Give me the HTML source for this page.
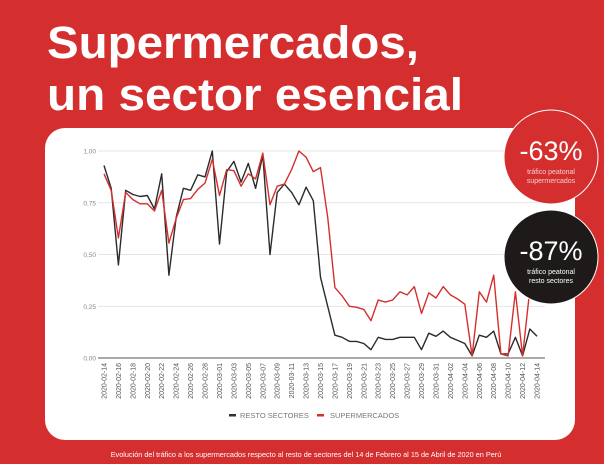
<!DOCTYPE html>
<html><head><meta charset="utf-8"><style>
html,body{margin:0;padding:0;width:604px;height:464px;overflow:hidden;background:#d42f2e;}
svg{display:block;font-family:"Liberation Sans",sans-serif;}
</style></head><body>
<svg id="root" width="604" height="464" viewBox="0 0 604 464">
<rect x="0" y="0" width="604" height="464" fill="#d42f2e"/>
<text x="47" y="58" font-size="45" font-weight="bold" fill="#fff" textLength="372" lengthAdjust="spacingAndGlyphs">Supermercados,</text>
<text x="47" y="110" font-size="45" font-weight="bold" fill="#fff" textLength="416" lengthAdjust="spacingAndGlyphs">un sector esencial</text>
<rect x="45" y="128" width="530" height="312" rx="20" fill="#fff"/>
<g id="grid"></g>
<g id="xlabels"></g>
<g id="series"></g>
<g>
<rect x="229" y="414" width="7" height="2.5" fill="#333"/>
<text x="240" y="418" font-size="7.5" fill="#777">RESTO SECTORES</text>
<rect x="317" y="414" width="7" height="2.5" fill="#d42f2e"/>
<text x="330" y="418" font-size="7.5" fill="#777">SUPERMERCADOS</text>
</g>
<g>
<circle cx="551" cy="157" r="47" fill="#d42f2e" stroke="#fff" stroke-width="1"/>
<text x="551" y="160" font-size="27" fill="#fff" text-anchor="middle">-63%</text>
<text x="551" y="174" font-size="7" fill="#f3d0d0" text-anchor="middle">tráfico peatonal</text>
<text x="551" y="183" font-size="7" fill="#f3d0d0" text-anchor="middle">supermercados</text>
</g>
<g>
<circle cx="551" cy="257" r="47" fill="#1e1a1a" stroke="#fff" stroke-width="1"/>
<text x="551" y="260" font-size="27" fill="#fff" text-anchor="middle">-87%</text>
<text x="551" y="274" font-size="7" fill="#fff" text-anchor="middle">tráfico peatonal</text>
<text x="551" y="283" font-size="7" fill="#fff" text-anchor="middle">resto sectores</text>
</g>
<text x="306" y="457" font-size="7.3" fill="#fff" text-anchor="middle">Evolución del tráfico a los supermercados respecto al resto de sectores del 14 de Febrero al 15 de Abril de 2020 en Perú</text>
</svg>
<script>
const resto=[0.93,0.82,0.45,0.81,0.79,0.78,0.785,0.72,0.89,0.40,0.68,0.82,0.81,0.885,0.875,1.00,0.55,0.90,0.95,0.85,0.94,0.82,0.98,0.50,0.80,0.84,0.80,0.74,0.825,0.76,0.39,0.25,0.11,0.10,0.08,0.08,0.07,0.04,0.10,0.09,0.09,0.10,0.10,0.10,0.04,0.12,0.105,0.13,0.10,0.085,0.07,0.01,0.11,0.10,0.13,0.02,0.02,0.10,0.01,0.14,0.105];
const supers=[0.89,0.81,0.58,0.80,0.765,0.745,0.745,0.71,0.81,0.555,0.675,0.765,0.77,0.815,0.845,0.96,0.785,0.91,0.905,0.83,0.89,0.865,0.99,0.74,0.83,0.84,0.91,1.00,0.97,0.90,0.92,0.68,0.34,0.30,0.25,0.245,0.235,0.18,0.28,0.27,0.28,0.32,0.305,0.345,0.215,0.315,0.29,0.345,0.305,0.285,0.26,0.01,0.32,0.27,0.40,0.02,0.01,0.32,0.01,0.33,0.32];
const yTicks=[0,0.25,0.5,0.75,1];
const yTickLabels=["0,00","0,25","0,50","0,75","1,00"];
const startDate="2020-02-14";
const NS="http://www.w3.org/2000/svg";
const X0=104,X1=537,Y0=358,Y1=151;
const n=resto.length;
function xs(i){return X0+(X1-X0)*i/(n-1);}
function ys(v){return Y0+(Y1-Y0)*v;}
function mk(tag,attrs,parent){const e=document.createElementNS(NS,tag);for(const k in attrs)e.setAttribute(k,attrs[k]);parent.appendChild(e);return e;}
const grid=document.getElementById('grid');
yTicks.forEach((t,i)=>{
  const l=mk('line',{x1:98,x2:545,y1:ys(t),y2:ys(t),stroke:t===0?'#555':'#ddd','stroke-width':t===0?1:0.8},grid);
  
  
  const tx=mk('text',{x:96,y:ys(t)+2.5,'font-size':6.5,fill:'#888','text-anchor':'end'},grid);
  tx.textContent=yTickLabels[i];
  
  
});
const xl=document.getElementById('xlabels');
const d0=new Date(startDate+"T00:00:00Z");
for(let i=0;i<n;i+=2){
  const d=new Date(d0.getTime()+i*86400000);
  const s=d.toISOString().slice(0,10);
  const x=xs(i)+2.5,y=363;
  const t=mk('text',{x:x,y:y,'font-size':7,fill:'#555','text-anchor':'end',transform:`rotate(-90 ${x} ${y})`},xl);
  t.textContent=s;
  
  
}
const sg=document.getElementById('series');
function line(arr,color,name){
  const p=mk('polyline',{points:arr.map((v,i)=>xs(i).toFixed(1)+','+ys(v).toFixed(1)).join(' '),fill:'none',stroke:color,'stroke-width':1.4,'stroke-linejoin':'round'},sg);
  
  
}
line(resto,'#2b2b2b','line-resto-sectores');
line(supers,'#d42f2e','line-supermercados');
</script>
</body></html>
